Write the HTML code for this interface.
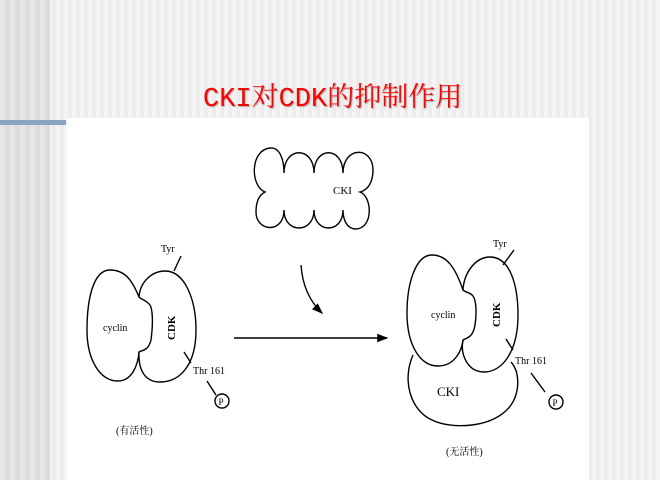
<!DOCTYPE html>
<html><head><meta charset="utf-8"><style>
html,body{margin:0;padding:0}
body{width:660px;height:480px;position:relative;overflow:hidden;
background:repeating-linear-gradient(90deg,#f4f4f4 0 4px,#ececec 4px 8px);}
#dark{position:absolute;left:0;top:0;width:50px;height:480px;background:repeating-linear-gradient(90deg,#e6e6e6 0 5px,#dcdcdc 5px 10px);}
#white{position:absolute;left:67px;top:118px;width:522px;height:362px;background:#fff;}
#bar{position:absolute;left:0;top:120px;width:66px;height:5px;background:#8aa3c0;}
#title{position:absolute;left:203px;top:84px;font-size:27px;color:#f00;white-space:nowrap;
font-family:"Liberation Mono","Noto Serif CJK SC",serif;text-shadow:1px 1px 1px #aaa;line-height:32px;}
svg{position:absolute;left:0;top:0}
</style></head><body>
<div id="dark"></div>
<div id="white"></div>
<div id="bar"></div>
<div id="title">CKI对CDK的抑制作用</div>
<svg width="660" height="480" viewBox="0 0 660 480" fill="none" stroke="#000" stroke-width="1.4" font-family="'Liberation Serif','Noto Serif CJK SC',serif">
<defs><marker id="ah" markerWidth="8" markerHeight="8" refX="7" refY="4" orient="auto"><path d="M0,1 L8,4 L0,7 z" fill="#000" stroke="none"/></marker></defs>
<!-- cloud -->
<path d="M265,192 C250,186 250,150 270,148 C280,147 284,160 284,173 C284,146 314,146 314,173 C314,146 343,146 343,173 C343,146 373,146 373,170 C373,182 368,190 360,192 C372,196 374,228 356,229 C347,229 343,220 343,210 C343,234 314,234 314,210 C314,234 284,234 284,210 C284,234 256,232 256,212 C256,201 259,195 265,192 Z"/>
<text x="333" y="194" font-size="11" fill="#000" stroke="none">CKI</text>
<!-- curved arrow -->
<path d="M301,265 Q303,295 322,313" marker-end="url(#ah)"/>
<!-- horizontal arrow -->
<path d="M234,338 L387,338" marker-end="url(#ah)"/>
<!-- left complex -->
<path d="M139,297 C132,280 125,270 110,270 C93,270 87,300 87,330 C87,360 100,381 118,381 C132,381 138,365 139,352"/>
<path d="M139,297 C140,282 152,271 165,271 C185,271 196,300 196,330 C196,365 180,382 160,382 C145,382 138,370 139,352 C141,350 148,352 151,340 C153,325 153,310 150,305 C146,300 142,300 139,297 Z"/>
<text x="103" y="331" font-size="10" fill="#000" stroke="none">cyclin</text>
<text x="0" y="0" font-size="11" fill="#000" stroke="none" font-weight="bold" transform="translate(175,340) rotate(-90)">CDK</text>
<text x="161" y="252" font-size="10" fill="#000" stroke="none">Tyr</text>
<path d="M181,256 L174,271"/>
<path d="M184,352 L191,363"/>
<text x="193" y="374" font-size="10" fill="#000" stroke="none">Thr 161</text>
<path d="M207,381 L216,395"/>
<circle cx="222" cy="401" r="7"/>
<text x="218.5" y="405" font-size="9" fill="#000" stroke="none">P</text>
<text x="116" y="434" font-size="10" fill="#000" stroke="none">(有活性)</text>
<!-- right complex -->
<path d="M463,290 C456,270 448,255 432,255 C415,255 407,285 407,313 C407,345 420,366 438,366 C455,366 462,350 463,340"/>
<path d="M463,290 C464,272 476,257 490,257 C510,257 518,285 518,315 C518,352 502,372 484,372 C468,372 460,355 463,340 C466,338 473,338 475,325 C477,312 476,300 473,296 C470,292 466,293 463,290 Z"/>
<path d="M413,355 C402,380 410,410 432,420 C452,430 495,428 511,405 C520,392 520,372 511,362"/>
<text x="431" y="318" font-size="10" fill="#000" stroke="none">cyclin</text>
<text x="0" y="0" font-size="11" fill="#000" stroke="none" font-weight="bold" transform="translate(500,327) rotate(-90)">CDK</text>
<text x="437" y="396" font-size="13" fill="#000" stroke="none">CKI</text>
<text x="493" y="247" font-size="10" fill="#000" stroke="none">Tyr</text>
<path d="M514,250 L503,265"/>
<path d="M506,339 L513,350"/>
<text x="515" y="364" font-size="10" fill="#000" stroke="none">Thr 161</text>
<path d="M531,373 L545,392"/>
<circle cx="556" cy="402" r="7"/>
<text x="552.5" y="406" font-size="9" fill="#000" stroke="none">P</text>
<text x="446" y="455" font-size="10" fill="#000" stroke="none">(无活性)</text>
</svg>
</body></html>
